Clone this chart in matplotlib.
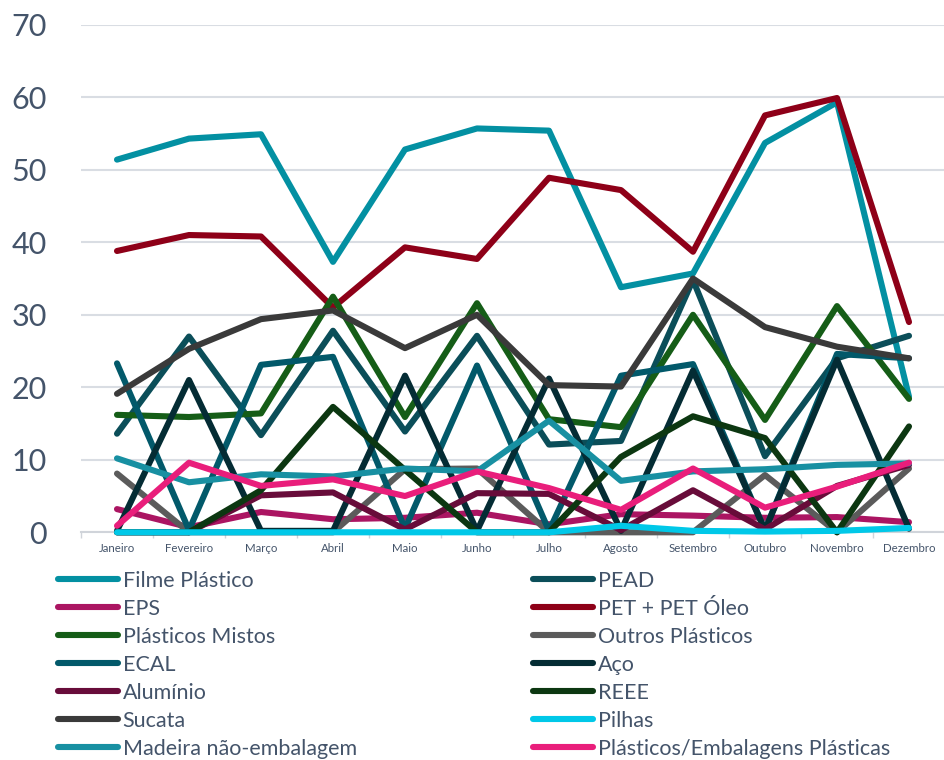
import matplotlib
matplotlib.use("Agg")
import matplotlib.pyplot as plt
from matplotlib.lines import Line2D

plt.rcParams['font.family'] = ['Lato', 'DejaVu Sans']

# months on the x axis
meses = ["Janeiro", "Fevereiro", "Março", "Abril", "Maio", "Junho", "Julho",
         "Agosto", "Setembro", "Outubro", "Novembro", "Dezembro"]

# values per series
filme_plastico = [51.4, 54.3, 54.9, 37.3, 52.8, 55.7, 55.4, 33.8, 35.7, 53.7, 59.3, 18.7]
pead = [13.6, 27.0, 13.4, 27.8, 13.9, 27.1, 12.1, 12.6, 34.8, 10.5, 24.0, 27.1]
eps = [3.2, 0.7, 2.8, 1.8, 2.0, 2.7, 1.1, 2.5, 2.3, 2.0, 2.1, 1.4]
pet = [38.8, 41.0, 40.8, 31.0, 39.3, 37.7, 48.9, 47.2, 38.7, 57.5, 59.9, 29.0]
plasticos_mistos = [16.2, 15.9, 16.4, 32.5, 15.9, 31.6, 15.6, 14.5, 30.0, 15.5, 31.2, 18.4]
outros_plasticos = [8.1, 0, 0, 0, 8.7, 8.8, 0, 0, 0, 7.9, 0, 8.8]
ecal = [23.3, 0.3, 23.1, 24.2, 0.5, 23.0, 0.2, 21.6, 23.2, 0.3, 24.6, 24.0]
aco = [0.2, 21.0, 0.2, 0.2, 21.6, 0.2, 21.2, 0.2, 22.3, 0.3, 23.8, 0.5]
aluminio = [0, 0, 5.1, 5.5, 0.4, 5.4, 5.3, 0.3, 5.8, 0.4, 6.4, 9.3]
reee = [0, 0, 5.8, 17.3, 8.6, 0, 0, 10.4, 16.0, 13.0, 0, 14.6]
sucata = [19.1, 25.3, 29.4, 30.6, 25.4, 30.0, 20.3, 20.1, 35.0, 28.3, 25.6, 24.0]
pilhas = [0, 0, 0, 0, 0, 0, 0, 0.9, 0.2, 0.1, 0.2, 0.6]
madeira = [10.2, 6.9, 8.0, 7.7, 8.8, 8.4, 15.4, 7.1, 8.4, 8.7, 9.3, 9.5]
plasticos_embalagens = [0.9, 9.6, 6.4, 7.3, 5.0, 8.4, 6.1, 3.1, 8.8, 3.4, 6.3, 9.6]

series = [
    ("Filme Plástico", filme_plastico, "#0390A2"),
    ("PEAD", pead, "#0B4E59"),
    ("EPS", eps, "#AB1562"),
    ("PET + PET Óleo", pet, "#8E0018"),
    ("Plásticos Mistos", plasticos_mistos, "#155D17"),
    ("Outros Plásticos", outros_plasticos, "#5B5B5B"),
    ("ECAL", ecal, "#02596A"),
    ("Aço", aco, "#042C34"),
    ("Alumínio", aluminio, "#680C3A"),
    ("REEE", reee, "#0C3711"),
    ("Sucata", sucata, "#3A3A3A"),
    ("Pilhas", pilhas, "#00C8E8"),
    ("Madeira não-embalagem", madeira, "#1890A2"),
    ("Plásticos/Embalagens Plásticas", plasticos_embalagens, "#E91E7B"),
]

fig = plt.figure(figsize=(9.45, 7.6), dpi=100)
ax = fig.add_axes([81 / 945, 0.2996, 1 - 81 / 945, 0.6678])

x = list(range(len(meses)))
handles = {}
for name, vals, color in series:
    ln, = ax.plot(x, vals, color=color, lw=4.4, solid_capstyle='round',
                  solid_joinstyle='round', clip_on=False, zorder=3)
    handles[name] = ln

ax.set_xlim(-0.5, 11.45)
ax.set_ylim(0, 70)
ax.set_yticks(range(0, 71, 10))
ax.set_xticks(x)
ax.set_xticklabels(meses, fontsize=8.3, color="#44546A")
ax.set_xticks([i + 0.5 for i in range(-1, 12)], minor=True)
ax.tick_params(axis='x', which='major', length=0, pad=8)
ax.tick_params(axis='x', which='minor', length=4, color="#D0D4DA", width=1)
ax.tick_params(axis='y', length=0, labelsize=22, labelcolor="#44546A", pad=24.5)

ax.grid(axis='y', color="#D9DDE3", lw=1.5)
ax.set_axisbelow(True)
for s in ["top", "right", "left"]:
    ax.spines[s].set_visible(False)
ax.spines["bottom"].set_color("#D0D4DA")
ax.spines["bottom"].set_linewidth(1.5)

# legend in two columns, read row by row
left_col = ["Filme Plástico", "EPS", "Plásticos Mistos", "ECAL", "Alumínio",
            "Sucata", "Madeira não-embalagem"]
right_col = ["PEAD", "PET + PET Óleo", "Outros Plásticos", "Aço", "REEE",
             "Pilhas", "Plásticos/Embalagens Plásticas"]

for col, xpos in [(left_col, 58 / 945), (right_col, 533 / 945)]:
    hs = [Line2D([], [], color=handles[n].get_color(), lw=4.4,
                 solid_capstyle='round') for n in col]
    fig.legend(hs, col, loc='upper left', bbox_to_anchor=(xpos, 1 - 571 / 760),
               frameon=False, fontsize=15.5, handlelength=2.8, handletextpad=0.2,
               labelspacing=0.37, borderpad=0, borderaxespad=0,
               labelcolor="#44546A")

fig.savefig("out.png", dpi=100)
